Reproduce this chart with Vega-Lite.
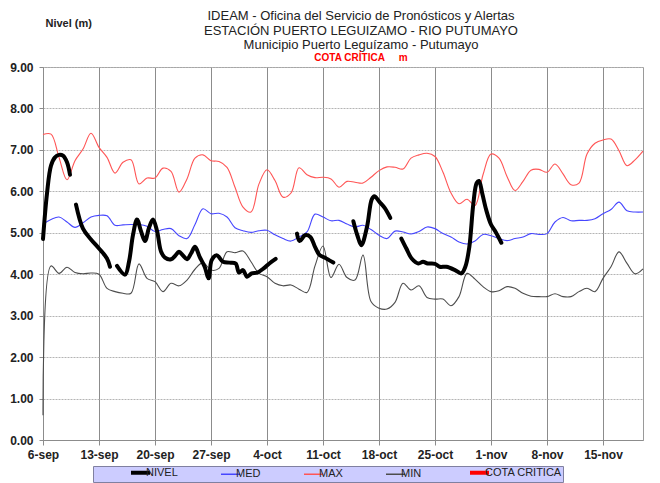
{
  "$schema": "https://vega.github.io/schema/vega-lite/v6.json",
  "width": 600,
  "height": 373,
  "autosize": {"type": "none"},
  "padding": {"left": 43, "top": 67, "right": 17, "bottom": 43},
  "background": "white",
  "title": {
    "text": ["IDEAM - Oficina del Servicio de Pronósticos y Alertas", "ESTACIÓN PUERTO LEGUIZAMO - RIO PUTUMAYO", "Municipio Puerto Leguízamo - Putumayo"],
    "subtitle": "COTA CRÍTICA\u00a0\u00a0\u00a0\u00a0\u00a0m",
    "anchor": "middle",
    "frame": "group",
    "dx": 18,
    "dy": 50,
    "offset": 4,
    "font": "Liberation Sans Narrow, Liberation Sans, sans-serif",
    "fontSize": 13,
    "fontWeight": "normal",
    "lineHeight": 14.5,
    "color": "#222222",
    "subtitleFont": "Liberation Sans Narrow, Liberation Sans, sans-serif",
    "subtitleFontSize": 10,
    "subtitleFontWeight": "bold",
    "subtitleColor": "#ff0000",
    "subtitlePadding": 1
  },
  "datasets": {
    "diario": [
      {"f": "2023-09-06", "MAX": 7.37, "MED": 5.21, "MIN": 0.60},
      {"f": "2023-09-07", "MAX": 7.38, "MED": 5.32, "MIN": 4.20},
      {"f": "2023-09-08", "MAX": 6.82, "MED": 5.38, "MIN": 4.02},
      {"f": "2023-09-09", "MAX": 6.28, "MED": 5.26, "MIN": 4.17},
      {"f": "2023-09-10", "MAX": 6.74, "MED": 5.13, "MIN": 4.04},
      {"f": "2023-09-11", "MAX": 7.02, "MED": 5.24, "MIN": 4.01},
      {"f": "2023-09-12", "MAX": 7.40, "MED": 5.38, "MIN": 4.03},
      {"f": "2023-09-13", "MAX": 7.06, "MED": 5.42, "MIN": 4.00},
      {"f": "2023-09-14", "MAX": 6.82, "MED": 5.41, "MIN": 3.66},
      {"f": "2023-09-15", "MAX": 6.44, "MED": 5.18, "MIN": 3.58},
      {"f": "2023-09-16", "MAX": 6.70, "MED": 5.19, "MIN": 3.54},
      {"f": "2023-09-17", "MAX": 6.76, "MED": 5.20, "MIN": 3.54},
      {"f": "2023-09-18", "MAX": 6.18, "MED": 5.20, "MIN": 4.25},
      {"f": "2023-09-19", "MAX": 6.32, "MED": 5.16, "MIN": 3.90},
      {"f": "2023-09-20", "MAX": 6.32, "MED": 5.03, "MIN": 3.82},
      {"f": "2023-09-21", "MAX": 6.56, "MED": 5.08, "MIN": 3.58},
      {"f": "2023-09-22", "MAX": 6.48, "MED": 5.10, "MIN": 3.78},
      {"f": "2023-09-23", "MAX": 5.98, "MED": 4.93, "MIN": 3.72},
      {"f": "2023-09-24", "MAX": 6.30, "MED": 4.86, "MIN": 3.86},
      {"f": "2023-09-25", "MAX": 6.80, "MED": 5.20, "MIN": 4.12},
      {"f": "2023-09-26", "MAX": 6.88, "MED": 5.58, "MIN": 4.28},
      {"f": "2023-09-27", "MAX": 6.74, "MED": 5.46, "MIN": 4.10},
      {"f": "2023-09-28", "MAX": 6.72, "MED": 5.47, "MIN": 4.14},
      {"f": "2023-09-29", "MAX": 6.58, "MED": 5.38, "MIN": 4.54},
      {"f": "2023-09-30", "MAX": 6.10, "MED": 5.12, "MIN": 4.52},
      {"f": "2023-10-01", "MAX": 5.62, "MED": 5.05, "MIN": 4.56},
      {"f": "2023-10-02", "MAX": 5.50, "MED": 5.01, "MIN": 4.30},
      {"f": "2023-10-03", "MAX": 6.18, "MED": 5.05, "MIN": 4.02},
      {"f": "2023-10-04", "MAX": 6.52, "MED": 5.06, "MIN": 3.94},
      {"f": "2023-10-05", "MAX": 6.26, "MED": 4.95, "MIN": 3.78},
      {"f": "2023-10-06", "MAX": 5.86, "MED": 4.86, "MIN": 3.72},
      {"f": "2023-10-07", "MAX": 5.96, "MED": 4.80, "MIN": 3.74},
      {"f": "2023-10-08", "MAX": 6.57, "MED": 4.90, "MIN": 3.64},
      {"f": "2023-10-09", "MAX": 6.40, "MED": 5.02, "MIN": 3.56},
      {"f": "2023-10-10", "MAX": 6.33, "MED": 5.45, "MIN": 4.20},
      {"f": "2023-10-11", "MAX": 6.34, "MED": 5.38, "MIN": 4.68},
      {"f": "2023-10-12", "MAX": 6.30, "MED": 5.29, "MIN": 3.92},
      {"f": "2023-10-13", "MAX": 6.10, "MED": 5.30, "MIN": 4.24},
      {"f": "2023-10-14", "MAX": 6.24, "MED": 5.21, "MIN": 3.92},
      {"f": "2023-10-15", "MAX": 6.22, "MED": 5.14, "MIN": 3.86},
      {"f": "2023-10-16", "MAX": 6.20, "MED": 5.18, "MIN": 4.46},
      {"f": "2023-10-17", "MAX": 6.34, "MED": 5.08, "MIN": 3.34},
      {"f": "2023-10-18", "MAX": 6.50, "MED": 4.94, "MIN": 3.18},
      {"f": "2023-10-19", "MAX": 6.59, "MED": 4.86, "MIN": 3.16},
      {"f": "2023-10-20", "MAX": 6.58, "MED": 5.04, "MIN": 3.32},
      {"f": "2023-10-21", "MAX": 6.54, "MED": 5.02, "MIN": 3.78},
      {"f": "2023-10-22", "MAX": 6.80, "MED": 4.97, "MIN": 3.62},
      {"f": "2023-10-23", "MAX": 6.88, "MED": 5.03, "MIN": 3.72},
      {"f": "2023-10-24", "MAX": 6.92, "MED": 5.14, "MIN": 3.44},
      {"f": "2023-10-25", "MAX": 6.84, "MED": 5.10, "MIN": 3.40},
      {"f": "2023-10-26", "MAX": 6.46, "MED": 4.98, "MIN": 3.40},
      {"f": "2023-10-27", "MAX": 5.96, "MED": 4.90, "MIN": 3.24},
      {"f": "2023-10-28", "MAX": 5.70, "MED": 4.78, "MIN": 3.46},
      {"f": "2023-10-29", "MAX": 5.81, "MED": 4.73, "MIN": 4.02},
      {"f": "2023-10-30", "MAX": 5.66, "MED": 4.80, "MIN": 3.88},
      {"f": "2023-10-31", "MAX": 6.40, "MED": 4.96, "MIN": 3.70},
      {"f": "2023-11-01", "MAX": 6.90, "MED": 4.93, "MIN": 3.58},
      {"f": "2023-11-02", "MAX": 6.80, "MED": 4.86, "MIN": 3.60},
      {"f": "2023-11-03", "MAX": 6.36, "MED": 4.81, "MIN": 3.70},
      {"f": "2023-11-04", "MAX": 6.02, "MED": 4.86, "MIN": 3.66},
      {"f": "2023-11-05", "MAX": 6.24, "MED": 4.90, "MIN": 3.54},
      {"f": "2023-11-06", "MAX": 6.51, "MED": 4.98, "MIN": 3.47},
      {"f": "2023-11-07", "MAX": 6.53, "MED": 4.96, "MIN": 3.46},
      {"f": "2023-11-08", "MAX": 6.46, "MED": 4.98, "MIN": 3.46},
      {"f": "2023-11-09", "MAX": 6.66, "MED": 5.26, "MIN": 3.53},
      {"f": "2023-11-10", "MAX": 6.42, "MED": 5.37, "MIN": 3.46},
      {"f": "2023-11-11", "MAX": 6.16, "MED": 5.29, "MIN": 3.46},
      {"f": "2023-11-12", "MAX": 6.20, "MED": 5.30, "MIN": 3.58},
      {"f": "2023-11-13", "MAX": 6.90, "MED": 5.30, "MIN": 3.66},
      {"f": "2023-11-14", "MAX": 7.16, "MED": 5.34, "MIN": 3.58},
      {"f": "2023-11-15", "MAX": 7.24, "MED": 5.46, "MIN": 3.90},
      {"f": "2023-11-16", "MAX": 7.26, "MED": 5.56, "MIN": 4.18},
      {"f": "2023-11-17", "MAX": 6.98, "MED": 5.74, "MIN": 4.54},
      {"f": "2023-11-18", "MAX": 6.62, "MED": 5.53, "MIN": 4.26},
      {"f": "2023-11-19", "MAX": 6.76, "MED": 5.50, "MIN": 4.01},
      {"f": "2023-11-20", "MAX": 6.97, "MED": 5.50, "MIN": 4.13}
    ],
    "nivel": [
      {"f": "2023-09-06T00:00:00Z", "nivel": 4.85, "tramo": 1, "serie": "NIVEL"},
      {"f": "2023-09-06T12:00:00Z", "nivel": 5.95, "tramo": 1, "serie": "NIVEL"},
      {"f": "2023-09-07T00:00:00Z", "nivel": 6.62, "tramo": 1, "serie": "NIVEL"},
      {"f": "2023-09-07T12:00:00Z", "nivel": 6.82, "tramo": 1, "serie": "NIVEL"},
      {"f": "2023-09-08T00:00:00Z", "nivel": 6.88, "tramo": 1, "serie": "NIVEL"},
      {"f": "2023-09-08T12:00:00Z", "nivel": 6.86, "tramo": 1, "serie": "NIVEL"},
      {"f": "2023-09-09T00:00:00Z", "nivel": 6.70, "tramo": 1, "serie": "NIVEL"},
      {"f": "2023-09-09T09:00:00Z", "nivel": 6.40, "tramo": 1, "serie": "NIVEL"},
      {"f": "2023-09-10T03:00:00Z", "nivel": 5.68, "tramo": 2, "serie": "NIVEL"},
      {"f": "2023-09-11T00:00:00Z", "nivel": 5.10, "tramo": 2, "serie": "NIVEL"},
      {"f": "2023-09-12T00:00:00Z", "nivel": 4.84, "tramo": 2, "serie": "NIVEL"},
      {"f": "2023-09-13T00:00:00Z", "nivel": 4.62, "tramo": 2, "serie": "NIVEL"},
      {"f": "2023-09-14T00:00:00Z", "nivel": 4.38, "tramo": 2, "serie": "NIVEL"},
      {"f": "2023-09-14T09:00:00Z", "nivel": 4.18, "tramo": 2, "serie": "NIVEL"},
      {"f": "2023-09-15T06:00:00Z", "nivel": 4.20, "tramo": 3, "serie": "NIVEL"},
      {"f": "2023-09-16T06:00:00Z", "nivel": 3.99, "tramo": 3, "serie": "NIVEL"},
      {"f": "2023-09-16T18:00:00Z", "nivel": 4.30, "tramo": 3, "serie": "NIVEL"},
      {"f": "2023-09-17T06:00:00Z", "nivel": 4.95, "tramo": 3, "serie": "NIVEL"},
      {"f": "2023-09-17T18:00:00Z", "nivel": 5.32, "tramo": 3, "serie": "NIVEL"},
      {"f": "2023-09-18T06:00:00Z", "nivel": 5.04, "tramo": 3, "serie": "NIVEL"},
      {"f": "2023-09-18T18:00:00Z", "nivel": 4.80, "tramo": 3, "serie": "NIVEL"},
      {"f": "2023-09-19T06:00:00Z", "nivel": 5.12, "tramo": 3, "serie": "NIVEL"},
      {"f": "2023-09-19T18:00:00Z", "nivel": 5.32, "tramo": 3, "serie": "NIVEL"},
      {"f": "2023-09-20T06:00:00Z", "nivel": 5.05, "tramo": 3, "serie": "NIVEL"},
      {"f": "2023-09-20T18:00:00Z", "nivel": 4.55, "tramo": 3, "serie": "NIVEL"},
      {"f": "2023-09-21T06:00:00Z", "nivel": 4.40, "tramo": 3, "serie": "NIVEL"},
      {"f": "2023-09-22T00:00:00Z", "nivel": 4.36, "tramo": 3, "serie": "NIVEL"},
      {"f": "2023-09-22T12:00:00Z", "nivel": 4.44, "tramo": 3, "serie": "NIVEL"},
      {"f": "2023-09-23T00:00:00Z", "nivel": 4.54, "tramo": 3, "serie": "NIVEL"},
      {"f": "2023-09-23T12:00:00Z", "nivel": 4.45, "tramo": 3, "serie": "NIVEL"},
      {"f": "2023-09-24T00:00:00Z", "nivel": 4.36, "tramo": 3, "serie": "NIVEL"},
      {"f": "2023-09-24T12:00:00Z", "nivel": 4.50, "tramo": 3, "serie": "NIVEL"},
      {"f": "2023-09-25T00:00:00Z", "nivel": 4.66, "tramo": 3, "serie": "NIVEL"},
      {"f": "2023-09-25T14:00:00Z", "nivel": 4.42, "tramo": 3, "serie": "NIVEL"},
      {"f": "2023-09-26T05:00:00Z", "nivel": 4.18, "tramo": 3, "serie": "NIVEL"},
      {"f": "2023-09-26T17:00:00Z", "nivel": 3.90, "tramo": 3, "serie": "NIVEL"},
      {"f": "2023-09-27T02:00:00Z", "nivel": 4.34, "tramo": 3, "serie": "NIVEL"},
      {"f": "2023-09-27T17:00:00Z", "nivel": 4.46, "tramo": 3, "serie": "NIVEL"},
      {"f": "2023-09-28T12:00:00Z", "nivel": 4.30, "tramo": 3, "serie": "NIVEL"},
      {"f": "2023-09-29T07:00:00Z", "nivel": 4.28, "tramo": 3, "serie": "NIVEL"},
      {"f": "2023-09-30T02:00:00Z", "nivel": 4.26, "tramo": 3, "serie": "NIVEL"},
      {"f": "2023-09-30T12:00:00Z", "nivel": 4.04, "tramo": 3, "serie": "NIVEL"},
      {"f": "2023-10-01T00:00:00Z", "nivel": 4.10, "tramo": 3, "serie": "NIVEL"},
      {"f": "2023-10-01T12:00:00Z", "nivel": 3.94, "tramo": 3, "serie": "NIVEL"},
      {"f": "2023-10-02T02:00:00Z", "nivel": 4.02, "tramo": 3, "serie": "NIVEL"},
      {"f": "2023-10-02T19:00:00Z", "nivel": 4.04, "tramo": 3, "serie": "NIVEL"},
      {"f": "2023-10-03T14:00:00Z", "nivel": 4.14, "tramo": 3, "serie": "NIVEL"},
      {"f": "2023-10-04T07:00:00Z", "nivel": 4.26, "tramo": 3, "serie": "NIVEL"},
      {"f": "2023-10-05T02:00:00Z", "nivel": 4.37, "tramo": 3, "serie": "NIVEL"},
      {"f": "2023-10-07T18:00:00Z", "nivel": 4.98, "tramo": 4, "serie": "NIVEL"},
      {"f": "2023-10-08T02:00:00Z", "nivel": 4.80, "tramo": 4, "serie": "NIVEL"},
      {"f": "2023-10-08T18:00:00Z", "nivel": 4.94, "tramo": 4, "serie": "NIVEL"},
      {"f": "2023-10-09T10:00:00Z", "nivel": 4.90, "tramo": 4, "serie": "NIVEL"},
      {"f": "2023-10-10T00:00:00Z", "nivel": 4.66, "tramo": 4, "serie": "NIVEL"},
      {"f": "2023-10-10T14:00:00Z", "nivel": 4.46, "tramo": 4, "serie": "NIVEL"},
      {"f": "2023-10-11T06:00:00Z", "nivel": 4.40, "tramo": 4, "serie": "NIVEL"},
      {"f": "2023-10-11T18:00:00Z", "nivel": 4.34, "tramo": 4, "serie": "NIVEL"},
      {"f": "2023-10-12T07:00:00Z", "nivel": 4.28, "tramo": 4, "serie": "NIVEL"},
      {"f": "2023-10-14T19:00:00Z", "nivel": 5.28, "tramo": 5, "serie": "NIVEL"},
      {"f": "2023-10-15T07:00:00Z", "nivel": 4.94, "tramo": 5, "serie": "NIVEL"},
      {"f": "2023-10-15T19:00:00Z", "nivel": 4.70, "tramo": 5, "serie": "NIVEL"},
      {"f": "2023-10-16T12:00:00Z", "nivel": 5.14, "tramo": 5, "serie": "NIVEL"},
      {"f": "2023-10-17T02:00:00Z", "nivel": 5.80, "tramo": 5, "serie": "NIVEL"},
      {"f": "2023-10-17T10:00:00Z", "nivel": 5.88, "tramo": 5, "serie": "NIVEL"},
      {"f": "2023-10-18T02:00:00Z", "nivel": 5.74, "tramo": 5, "serie": "NIVEL"},
      {"f": "2023-10-18T17:00:00Z", "nivel": 5.60, "tramo": 5, "serie": "NIVEL"},
      {"f": "2023-10-19T10:00:00Z", "nivel": 5.36, "tramo": 5, "serie": "NIVEL"},
      {"f": "2023-10-20T19:00:00Z", "nivel": 4.86, "tramo": 6, "serie": "NIVEL"},
      {"f": "2023-10-21T10:00:00Z", "nivel": 4.62, "tramo": 6, "serie": "NIVEL"},
      {"f": "2023-10-22T02:00:00Z", "nivel": 4.38, "tramo": 6, "serie": "NIVEL"},
      {"f": "2023-10-22T22:00:00Z", "nivel": 4.26, "tramo": 6, "serie": "NIVEL"},
      {"f": "2023-10-23T12:00:00Z", "nivel": 4.30, "tramo": 6, "serie": "NIVEL"},
      {"f": "2023-10-24T02:00:00Z", "nivel": 4.26, "tramo": 6, "serie": "NIVEL"},
      {"f": "2023-10-25T00:00:00Z", "nivel": 4.25, "tramo": 6, "serie": "NIVEL"},
      {"f": "2023-10-25T14:00:00Z", "nivel": 4.18, "tramo": 6, "serie": "NIVEL"},
      {"f": "2023-10-26T10:00:00Z", "nivel": 4.18, "tramo": 6, "serie": "NIVEL"},
      {"f": "2023-10-27T12:00:00Z", "nivel": 4.10, "tramo": 6, "serie": "NIVEL"},
      {"f": "2023-10-28T07:00:00Z", "nivel": 4.02, "tramo": 6, "serie": "NIVEL"},
      {"f": "2023-10-28T19:00:00Z", "nivel": 4.18, "tramo": 6, "serie": "NIVEL"},
      {"f": "2023-10-29T07:00:00Z", "nivel": 4.66, "tramo": 6, "serie": "NIVEL"},
      {"f": "2023-10-29T19:00:00Z", "nivel": 5.70, "tramo": 6, "serie": "NIVEL"},
      {"f": "2023-10-30T05:00:00Z", "nivel": 6.20, "tramo": 6, "serie": "NIVEL"},
      {"f": "2023-10-30T12:00:00Z", "nivel": 6.25, "tramo": 6, "serie": "NIVEL"},
      {"f": "2023-10-30T22:00:00Z", "nivel": 5.94, "tramo": 6, "serie": "NIVEL"},
      {"f": "2023-10-31T10:00:00Z", "nivel": 5.54, "tramo": 6, "serie": "NIVEL"},
      {"f": "2023-11-01T00:00:00Z", "nivel": 5.20, "tramo": 6, "serie": "NIVEL"},
      {"f": "2023-11-01T14:00:00Z", "nivel": 5.02, "tramo": 6, "serie": "NIVEL"},
      {"f": "2023-11-02T07:00:00Z", "nivel": 4.76, "tramo": 6, "serie": "NIVEL"}
    ]
  },
  "encoding": {
    "x": {
      "field": "f",
      "type": "temporal",
      "title": null,
      "scale": {
        "type": "utc",
        "domain": [
          {"year": 2023, "month": 9, "date": 6, "utc": true},
          {"year": 2023, "month": 11, "date": 20, "utc": true}
        ]
      },
      "axis": {
        "values": [
          {"year": 2023, "month": 9, "date": 6, "utc": true},
          {"year": 2023, "month": 9, "date": 13, "utc": true},
          {"year": 2023, "month": 9, "date": 20, "utc": true},
          {"year": 2023, "month": 9, "date": 27, "utc": true},
          {"year": 2023, "month": 10, "date": 4, "utc": true},
          {"year": 2023, "month": 10, "date": 11, "utc": true},
          {"year": 2023, "month": 10, "date": 18, "utc": true},
          {"year": 2023, "month": 10, "date": 25, "utc": true},
          {"year": 2023, "month": 11, "date": 1, "utc": true},
          {"year": 2023, "month": 11, "date": 8, "utc": true},
          {"year": 2023, "month": 11, "date": 15, "utc": true}
        ],
        "labelExpr": "utcFormat(datum.value, '%-d') + '-' + lower(utcFormat(datum.value, '%b'))",
        "grid": true,
        "gridColor": "#8c8c8c",
        "gridWidth": 1,
        "labelPadding": 4,
        "tickSize": 5,
        "labelFlush": false,
        "labelOverlap": false
      }
    },
    "y": {
      "field": "nivel",
      "type": "quantitative",
      "scale": {"domain": [0, 9], "nice": false, "zero": true},
      "axis": {
        "values": [0, 1, 2, 3, 4, 5, 6, 7, 8, 9],
        "format": ".2f",
        "title": "Nivel (m)",
        "titleAngle": 0,
        "titleAlign": "left",
        "titleBaseline": "middle",
        "titleX": 2,
        "titleY": -44,
        "titleFontSize": 11,
        "titleFontWeight": "bold",
        "titleColor": "#222222",
        "grid": true,
        "gridColor": "#b4b4b4",
        "gridDash": [2, 1],
        "gridWidth": 1,
        "tickSize": 4,
        "labelPadding": 6
      }
    },
    "color": {
      "field": "serie",
      "type": "nominal",
      "scale": {
        "domain": ["NIVEL", "MED", "MAX", "MIN", "COTA CRITICA"],
        "range": ["#000000", "#4646ff", "#ff5555", "#4d4d4d", "#ff0000"]
      },
      "legend": {
        "title": " ",
        "titleOrient": "left",
        "titlePadding": 41,
        "orient": "none",
        "legendX": 50,
        "legendY": 399,
        "direction": "horizontal",
        "columns": 5,
        "symbolType": "stroke",
        "symbolSize": 361,
        "labelOffset": 0,
        "columnPadding": 40,
        "padding": 1,
        "fillColor": "#ccccff",
        "strokeColor": "#8080a0",
        "labelFontSize": 11,
        "labelColor": "#222222",
        "labelFont": "Liberation Sans, Arial, sans-serif",
        "labelLimit": 300,
        "encode": {
          "symbols": {
            "update": {
              "strokeWidth": {"signal": "datum.value == 'NIVEL' || datum.value == 'COTA CRITICA' ? 4 : 1.5"}
            }
          }
        }
      }
    }
  },
  "layer": [
    {
      "data": {"name": "diario"},
      "transform": [{"fold": ["MIN", "MAX", "MED"], "as": ["serie", "nivel"]}],
      "mark": {"type": "line", "interpolate": "catmull-rom", "strokeWidth": 1.1}
    },
    {
      "data": {"name": "nivel"},
      "mark": {"type": "line", "interpolate": "catmull-rom", "strokeWidth": 4, "strokeCap": "round", "strokeJoin": "round"},
      "encoding": {"detail": {"field": "tramo", "type": "nominal"}}
    }
  ],
  "config": {
    "font": "Liberation Sans Narrow, Liberation Sans, sans-serif",
    "view": {"stroke": "#9a9a9a"},
    "axis": {
      "labelFont": "Liberation Sans Narrow, Liberation Sans, sans-serif",
      "labelFontSize": 12,
      "labelFontWeight": "bold",
      "labelColor": "#222222",
      "domainColor": "#8c8c8c",
      "tickColor": "#8c8c8c",
      "titleFont": "Liberation Sans Narrow, Liberation Sans, sans-serif"
    }
  }
}
